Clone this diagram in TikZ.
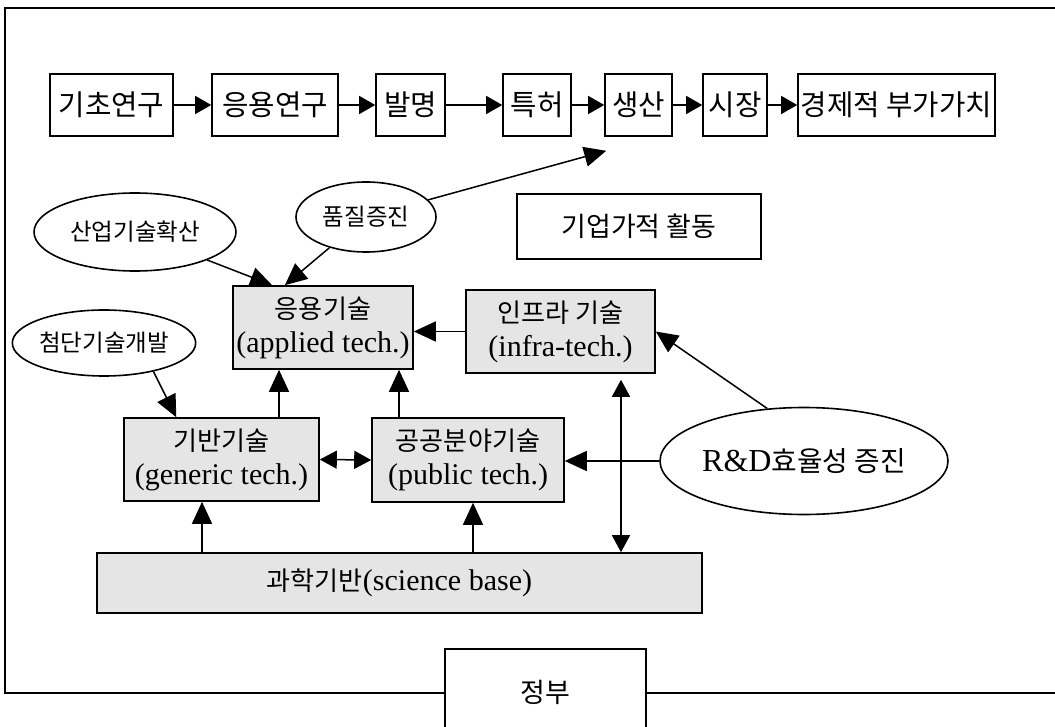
\documentclass[tikz,border=0pt]{standalone}
\usepackage{fontspec}
\setmainfont{Liberation Serif}
\newfontfamily\kr{Noto Sans CJK KR}[Scale=0.87]
\usetikzlibrary{shapes.geometric,arrows.meta,calc}

\tikzset{
  stage/.style={draw, line width=0.8pt, minimum height=31pt, inner sep=0pt, font=\kr\fontsize{16.5}{19}\selectfont},
  tech/.style={draw, line width=0.8pt, fill=black!10, inner sep=0pt, align=center, font=\fontsize{15}{17}\selectfont},
  goal/.style={ellipse, draw, line width=0.8pt, inner sep=0pt, font=\fontsize{13.5}{16}\selectfont},
  arr/.style={line width=0.75pt, -{Triangle[length=11pt,width=10pt]}},
  arrsmall/.style={line width=0.75pt, -{Triangle[length=8pt,width=9pt]}},
  dblarr/.style={line width=0.75pt, {Triangle[length=8.5pt,width=9pt]}-{Triangle[length=8.5pt,width=9pt]}},
}

\begin{document}
\begin{tikzpicture}[x=0.5pt, y=-0.5pt]
  % Define parameters
  \def\rowY{105}     % height of the chain of stages
  \def\frameY{693}   % bottom line of the frame

  \useasboundingbox (0,0) rectangle (1055,727);
  \fill[white] (0,0) rectangle (1055,727);
  \clip (0,0) rectangle (1055,727);

  %% Chain from research to value
  \node[stage, minimum width=61.5pt] (basicRes)   at (111.5,\rowY) {기초연구};
  \node[stage, minimum width=63pt]   (appliedRes) at (275,\rowY)   {응용연구};
  \node[stage, minimum width=34.5pt] (invention)  at (410.5,\rowY) {발명};
  \node[stage, minimum width=34pt]   (patent)     at (537,\rowY)   {특허};
  \node[stage, minimum width=33.5pt] (production) at (638.5,\rowY) {생산};
  \node[stage, minimum width=32pt]   (market)     at (735,\rowY)   {시장};
  \node[stage, minimum width=98.5pt] (valueAdd)   at (896.5,\rowY) {경제적 부가가치};

  \foreach \a/\b in {basicRes/appliedRes, appliedRes/invention, invention/patent,
                     patent/production, production/market, market/valueAdd} {
      \draw[arrsmall] (\a.east) -- (\b.west);
  }

  %% Firms
  \node[draw, line width=0.8pt, minimum width=122pt, minimum height=32.5pt, inner sep=0pt,
        font=\kr\fontsize{15.5}{18}\selectfont] (entre) at (639,226.5) {기업가적 활동};

  %% Technologies
  \node[tech, minimum width=90pt, minimum height=41.5pt]   (appliedTech) at (323,327.5) {{\kr 응용기술}\\(applied tech.)};
  \node[tech, minimum width=94.5pt, minimum height=41.5pt] (infraTech)   at (560.5,331.5) {{\kr 인프라 기술}\\(infra-tech.)};
  \node[tech, minimum width=97.5pt, minimum height=41.5pt] (genericTech) at (221.5,459.5) {{\kr 기반기술}\\(generic tech.)};
  \node[tech, minimum width=96pt, minimum height=42pt]     (publicTech)  at (468,460) {{\kr 공공분야기술}\\(public tech.)};
  \node[tech, minimum width=302.5pt, minimum height=30pt]  (scienceBase) at (399.5,583) {{\kr 과학기반}(science base)};

  %% Goals
  \node[goal, minimum width=101pt, minimum height=39pt] (diffusion) at (135,232) {\kr 산업기술확산};
  \node[goal, minimum width=70pt, minimum height=35pt]  (quality)   at (366,217) {\kr 품질증진};
  \node[goal, minimum width=81pt, minimum height=33pt]  (advanced)  at (104,343) {\kr 첨단기술개발};
  \node[goal, minimum width=114pt, minimum height=53.5pt, font=\fontsize{16}{18}\selectfont] (rdEff) at (804,461) {R\&D{\kr 효율성 증진}};

  %% Government
  \node[draw, line width=0.8pt, minimum width=100.5pt, minimum height=43pt, inner sep=0pt,
        font=\kr\fontsize{15.5}{18}\selectfont] (government) at (545.5,692) {정부};

  % Frame
  \coordinate (frameTL) at (5,8);
  \coordinate (frameTR) at (1055,8);
  \coordinate (frameBL) at (5,\frameY);
  \draw[line width=0.8pt] (frameTR) -- (frameTL) -- (frameBL) -- (frameBL -| government.west);
  \draw[line width=0.8pt] (government.east |- frameBL) -- (frameBL -| frameTR);

  %% Links
  % quality towards production
  \coordinate (prodIn) at ($(production.south west)+(2,14)$);
  \draw[arr] (quality) -- (prodIn);

  % goals into the technologies
  \draw[arr] (diffusion) -- ($(appliedTech.north west)!0.22!(appliedTech.north east)$);
  \draw[arr] (quality) -- ($(appliedTech.north west)!0.29!(appliedTech.north east)$);
  \draw[arr] (advanced.-30) -- ($(genericTech.north west)!0.27!(genericTech.north east)$);

  % upwards into applied tech.
  \coordinate (genUp) at ($(genericTech.north)+(57.5,0)$);
  \coordinate (pubUp) at ($(publicTech.north)+(-69,0)$);
  \draw[arr] (genUp) -- (genUp |- appliedTech.south);
  \draw[arr] (pubUp) -- (pubUp |- appliedTech.south);

  % science base upwards
  \coordinate (sciGen) at ($(genericTech.south)+(-19.5,0)$);
  \coordinate (sciPub) at ($(publicTech.south)+(5,0)$);
  \draw[arr] (sciGen |- scienceBase.north) -- (sciGen);
  \draw[arr] (sciPub |- scienceBase.north) -- (sciPub);

  % sideways
  \draw[dblarr] (genericTech.east) -- (publicTech.west);
  \draw[arr] (infraTech.west) -- (infraTech.west -| appliedTech.east);
  \draw[arr] (rdEff.west) -- (rdEff.west -| publicTech.east);
  \draw[arr] (rdEff.125) -- (infraTech.east);

  % infra <-> science base
  \coordinate (infraDown) at ($(infraTech.south)+(60.5,0)$);
  \draw[dblarr, shorten <=3pt] (infraDown) -- (infraDown |- scienceBase.north);

\end{tikzpicture}
\end{document}
